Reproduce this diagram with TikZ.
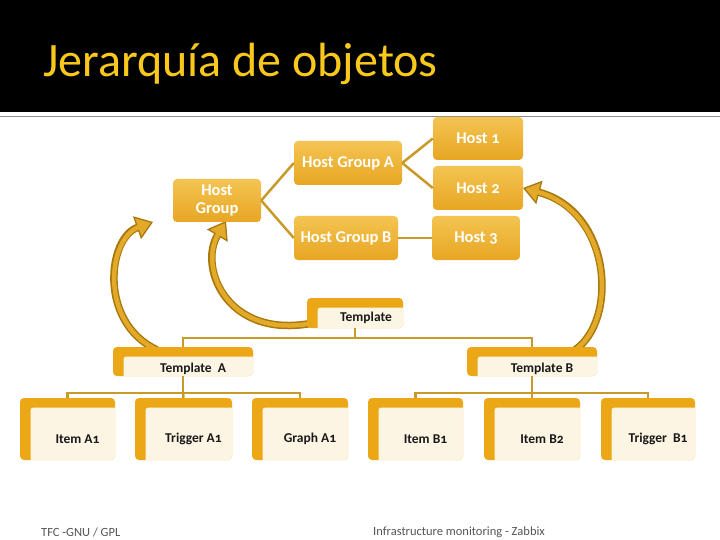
\documentclass[tikz,border=0pt]{standalone}
\usepackage{fontspec}
\setmainfont{Carlito}[Numbers=OldStyle]
\usetikzlibrary{arrows.meta,calc}
\definecolor{titlecol}{HTML}{F9C81B}
\definecolor{boxlight}{HTML}{F4C452}
\definecolor{boxdark}{HTML}{E7A623}
\definecolor{linkcol}{HTML}{C99A2A}
\definecolor{lorange}{HTML}{ECA716}
\definecolor{cream}{HTML}{FCF5E3}
\definecolor{arrgold}{HTML}{E3A928}
\definecolor{arrdark}{HTML}{A8790F}
\definecolor{footcol}{HTML}{555555}
\pgfdeclarelayer{bglayer}
\pgfdeclarelayer{arrowlayer}
\pgfsetlayers{bglayer,arrowlayer,main}
\begin{document}
\begin{tikzpicture}[x=1pt,y=-1pt,
  hostbox/.style={rectangle, rounded corners=4pt, top color=boxlight, bottom color=boxdark,
    draw=none, text=white, font=\fontsize{16.5}{18}\selectfont\bfseries, align=center, inner sep=0pt},
  tmpl/.style={rectangle, rounded corners=4pt, fill=lorange, inner sep=0pt,
    path picture={\fill[cream, rounded corners=3pt]
      ([xshift=10.5pt,yshift=-9.5pt]path picture bounding box.north west) rectangle
      ([xshift=6pt,yshift=-6pt]path picture bounding box.south east);}},
  tlabel/.style={font=\fontsize{13.5}{15}\selectfont\bfseries, text=black!90},
  link/.style={draw=linkcol, line width=2.5pt},
  arrout/.style={draw=arrdark, line width=7.5pt,
    -{Triangle[length=17pt, width=24pt, fill=arrgold, line width=1.3pt]}},
  arrin/.style={draw=arrgold, line width=4.5pt, shorten >=15pt},
  foot/.style={font=\fontsize{12.5}{14}\selectfont, text=footcol, anchor=west, inner sep=0pt}
]
\useasboundingbox (0,0) rectangle (720,540);
\begin{pgfonlayer}{bglayer}
\fill[white] (0,0) rectangle (720,540);
\fill[black] (0,0) rectangle (720,112.5);
\draw[draw=gray!90, line width=1.8pt] (0,116.5) -- (720,116.5);
\end{pgfonlayer}

\node[anchor=base west, inner sep=0pt, text=titlecol, font=\fontsize{48}{52}\selectfont] (title) at (43,77) {Jerarquía de objetos};

% host hierarchy
\node[hostbox, minimum width=88pt, minimum height=43pt] (hg) at (217,200.5) {Host\\Group};
\node[hostbox, minimum width=108pt, minimum height=44pt] (hga) at (348,163) {Host Group A};
\node[hostbox, minimum width=104pt, minimum height=44pt] (hgb) at (346,238) {Host Group B};
\node[hostbox, minimum width=90pt, minimum height=43pt] (h1) at (478,138.5) {Host 1};
\node[hostbox, minimum width=90pt, minimum height=44pt] (h2) at (478,188) {Host 2};
\node[hostbox, minimum width=88pt, minimum height=44pt] (h3) at (476,238) {Host 3};

\draw[link] (hg.east) -- (hga.west);
\draw[link] (hg.east) -- (hgb.west);
\draw[link] (hga.east) -- (h1.west);
\draw[link] (hga.east) -- (h2.west);
\draw[link] (hgb.east) -- (h3.west);

% templates
\node[tmpl, minimum width=96pt, minimum height=30pt,
  label={[tlabel, xshift=11pt, yshift=-5pt]center:Template}] (tpl) at (355,313) {};
\node[tmpl, minimum width=140pt, minimum height=29pt,
  label={[tlabel, xshift=10pt, yshift=-7pt]center:Template~ A}] (tA) at (183,361.5) {};
\node[tmpl, minimum width=130pt, minimum height=29pt,
  label={[tlabel, xshift=10pt, yshift=-7pt]center:Template B}] (tB) at (532,361.5) {};

\coordinate (jt) at (355,338);
\draw[link] (tpl.south) -- (jt) -| (tA.north);
\draw[link] (jt) -| (tB.north);

% items
\node[tmpl, minimum width=95pt, minimum height=62pt,
  label={[tlabel, xshift=10pt, yshift=-10pt]center:Item A1}] (ia1) at (67.5,429) {};
\node[tmpl, minimum width=97pt, minimum height=62pt,
  label={[tlabel, xshift=10pt, yshift=-10pt]center:Trigger A1}] (ta1) at (183.5,429) {};
\node[tmpl, minimum width=96pt, minimum height=62pt,
  label={[tlabel, xshift=10pt, yshift=-10pt]center:Graph A1}] (ga1) at (300,429) {};
\node[tmpl, minimum width=95pt, minimum height=62pt,
  label={[tlabel, xshift=10pt, yshift=-10pt]center:Item B1}] (ib1) at (415.5,429) {};
\node[tmpl, minimum width=96pt, minimum height=62pt,
  label={[tlabel, xshift=10pt, yshift=-10pt]center:Item B2}] (ib2) at (532,429) {};
\node[tmpl, minimum width=94pt, minimum height=62pt,
  label={[tlabel, xshift=10pt, yshift=-10pt]center:Trigger~ B1}] (tb1) at (648,429) {};

\coordinate (ja) at (183,393);
\coordinate (jb) at (532,393);
\draw[link] (tA.south) -- (ja);
\draw[link] (ia1.north) |- (ja) -| (ga1.north);
\draw[link] (ja) -- (ta1.north);
\draw[link] (tB.south) -- (jb);
\draw[link] (ib1.north) |- (jb) -| (tb1.north);
\draw[link] (jb) -- (ib2.north);

% curved arrows
\coordinate (p1) at (153,222);
\coordinate (p2) at (226,221);
\coordinate (p3) at (523,188);
\begin{pgfonlayer}{arrowlayer}
\draw[arrout] ($(tA.north west)+(44,3)$) .. controls (98,322) and (108,238) .. (p1);
\draw[arrin]  ($(tA.north west)+(44,3)$) .. controls (98,322) and (108,238) .. (p1);
\draw[arrout] ($(tpl.south west)+(10,-6)$) .. controls (228,342) and (198,268) .. (p2);
\draw[arrin]  ($(tpl.south west)+(10,-6)$) .. controls (228,342) and (198,268) .. (p2);
\draw[arrout] ($(tB.north east)+(-22,3)$) .. controls (618,320) and (612,212) .. (p3);
\draw[arrin]  ($(tB.north east)+(-22,3)$) .. controls (618,320) and (612,212) .. (p3);
\end{pgfonlayer}

% footer
\node[foot] (f1) at (41,532) {TFC -GNU / GPL};
\node[foot] (f2) at (373,532) {Infrastructure monitoring - Zabbix};
\end{tikzpicture}
\end{document}
